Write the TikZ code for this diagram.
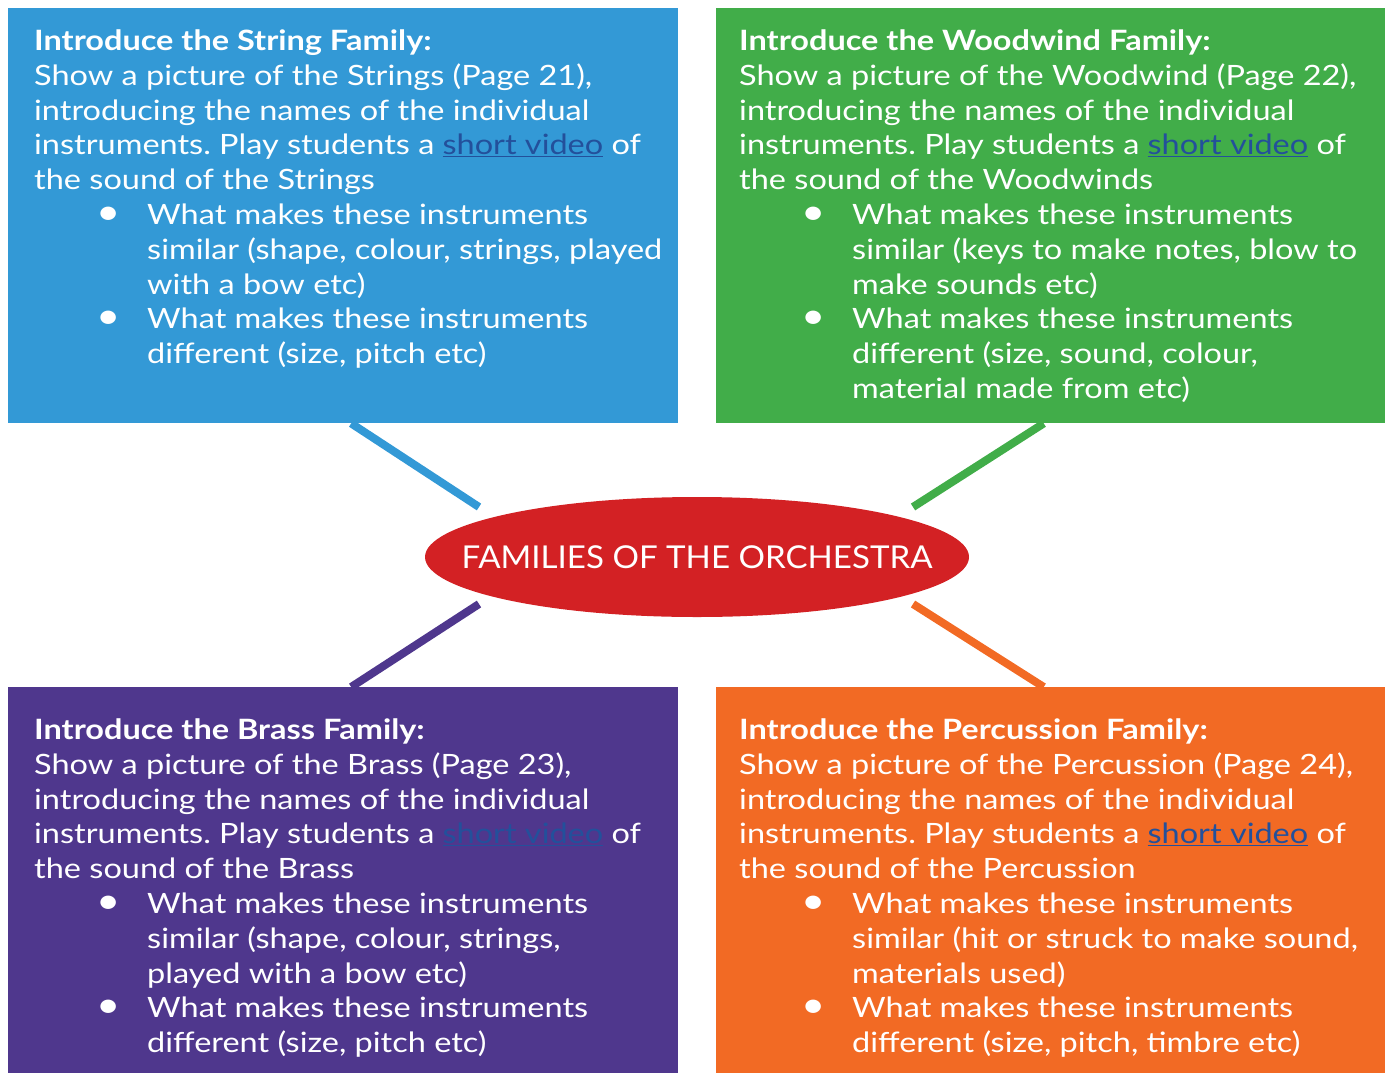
\documentclass[tikz,border=0pt]{standalone}
\usepackage{fontspec}
\setmainfont[FakeStretch=1.16]{Lato}
\newfontfamily\orchfont[FakeStretch=1.05]{Lato}
\usetikzlibrary{shapes.geometric, positioning}
\definecolor{stringsblue}{RGB}{51,153,214}
\definecolor{woodgreen}{RGB}{65,173,73}
\definecolor{brasspurple}{RGB}{79,55,141}
\definecolor{percorange}{RGB}{242,106,36}
\definecolor{orchred}{RGB}{211,33,36}
\definecolor{linkblue}{RGB}{35,80,155}
\tikzstyle{familybox} = [
rectangle, minimum width=670pt, inner sep=0pt, anchor=north west
]
\tikzstyle{familytext} = [
align=left, inner sep=0pt, text=white, font=\fontsize{28}{34.8}\selectfont
]
\tikzstyle{centre} = [
ellipse, fill=orchred, minimum width=544pt, minimum height=120pt,
inner xsep=-44pt, inner ysep=0pt, text=white, font=\orchfont\fontsize{31.5}{36}\selectfont
]
\tikzstyle{link} = [line width=8pt]
\frenchspacing
\newcommand{\videolink}{\textcolor{linkblue}{\underline{short video}}}
\newcommand{\pointline}[1]{\hspace*{61pt}\makebox[26pt]{\fontsize{36}{34.8}\selectfont\textbullet}\hspace*{26pt}#1}
\newcommand{\wrapline}[1]{\hspace*{113pt}#1}

\begin{document}
\begin{tikzpicture}[x=1pt, y=-1pt]
			\useasboundingbox (0,0) rectangle (1391,1073);
			% Boxes of the four families
			\node (strings) [familybox, fill=stringsblue, minimum height=415pt] at (8,8) {};
			\node (woodwind) [familybox, fill=woodgreen, minimum height=415pt, minimum width=669pt] at (716,8) {};
			\node (brass) [familybox, fill=brasspurple, minimum height=386pt] at (8,687) {};
			\node (percussion) [familybox, fill=percorange, minimum height=386pt, minimum width=669pt] at (716,687) {};

			% Texts
			\node (stringsText) [familytext, below right=21.5pt and 26pt of strings.north west] {%
				\textbf{Introduce the String Family:}\\
				Show a picture of the Strings (Page 21),\\
				introducing the names of the individual\\
				instruments. Play students a \videolink{} of\\
				the sound of the Strings\\
				\pointline{What makes these instruments}\\
				\wrapline{similar (shape, colour, strings, played}\\
				\wrapline{with a bow etc)}\\
				\pointline{What makes these instruments}\\
				\wrapline{different (size, pitch etc)}};
			\node (woodwindText) [familytext, below right=21.5pt and 23pt of woodwind.north west] {%
				\textbf{Introduce the Woodwind Family:}\\
				Show a picture of the Woodwind (Page 22),\\
				introducing the names of the individual\\
				instruments. Play students a \videolink{} of\\
				the sound of the Woodwinds\\
				\pointline{What makes these instruments}\\
				\wrapline{similar (keys to make notes, blow to}\\
				\wrapline{make sounds etc)}\\
				\pointline{What makes these instruments}\\
				\wrapline{different (size, sound, colour,}\\
				\wrapline{material made from etc)}};
			\node (brassText) [familytext, below right=31.5pt and 26pt of brass.north west] {%
				\textbf{Introduce the Brass Family:}\\
				Show a picture of the Brass (Page 23),\\
				introducing the names of the individual\\
				instruments. Play students a \videolink{} of\\
				the sound of the Brass\\
				\pointline{What makes these instruments}\\
				\wrapline{similar (shape, colour, strings,}\\
				\wrapline{played with a bow etc)}\\
				\pointline{What makes these instruments}\\
				\wrapline{different (size, pitch etc)}};
			\node (percussionText) [familytext, below right=31.5pt and 23pt of percussion.north west] {%
				\textbf{Introduce the Percussion Family:}\\
				Show a picture of the Percussion (Page 24),\\
				introducing the names of the individual\\
				instruments. Play students a \videolink{} of\\
				the sound of the Percussion\\
				\pointline{What makes these instruments}\\
				\wrapline{similar (hit or struck to make sound,}\\
				\wrapline{materials used)}\\
				\pointline{What makes these instruments}\\
				\wrapline{different (size, pitch, timbre etc)}};

			% Centre
			\node (orch) [centre] at (697,557) {FAMILIES OF THE ORCHESTRA};

			% Connections
			\coordinate (stringsEnd) at (479,507);
			\coordinate (woodwindEnd) at (913,507);
			\coordinate (brassEnd) at (479,604);
			\coordinate (percussionEnd) at (913,604);
			\draw [link, stringsblue] ([xshift=8pt]strings.south) -- (stringsEnd);
			\draw [link, woodgreen] ([xshift=-7pt]woodwind.south) -- (woodwindEnd);
			\draw [link, brasspurple] ([xshift=8pt]brass.north) -- (brassEnd);
			\draw [link, percorange] ([xshift=-7pt]percussion.north) -- (percussionEnd);

		\end{tikzpicture}
\end{document}
